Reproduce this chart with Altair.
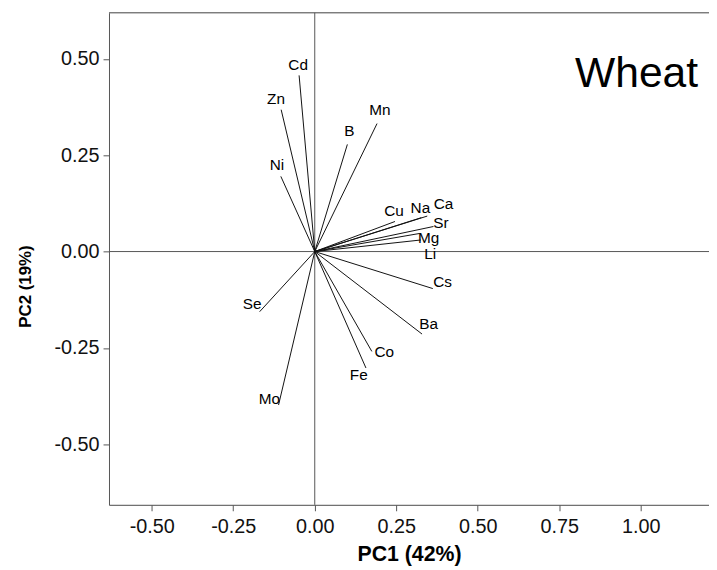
import altair as alt
import pandas as pd

# Loading vectors (PC1, PC2)
elements = ["Cd", "Zn", "Ni", "B", "Mn", "Cu", "Na", "Ca", "Sr", "Mg", "Li",
            "Cs", "Ba", "Co", "Fe", "Mo", "Se"]
pc1 = [-0.048, -0.103, -0.104, 0.100, 0.191, 0.246, 0.327, 0.345, 0.364, 0.322, 0.325,
       0.362, 0.329, 0.175, 0.157, -0.111, -0.169]
pc2 = [0.457, 0.368, 0.195, 0.278, 0.332, 0.078, 0.088, 0.092, 0.065, 0.047, 0.030,
       -0.096, -0.214, -0.259, -0.302, -0.398, -0.156]
# Label positions
label_x = [-0.051, -0.119, -0.116, 0.106, 0.200, 0.243, 0.324, 0.395, 0.387, 0.349, 0.354,
           0.392, 0.349, 0.213, 0.135, -0.139, -0.192]
label_y = [0.484, 0.395, 0.225, 0.313, 0.367, 0.105, 0.114, 0.123, 0.074, 0.036, -0.006,
           -0.079, -0.188, -0.261, -0.321, -0.383, -0.136]

x_ticks = [-0.5, -0.25, 0.0, 0.25, 0.5, 0.75, 1.0]
y_ticks = [-0.5, -0.25, 0.0, 0.25, 0.5]

panel_title = ["Wheat"]
panel_title_x = [0.987]
panel_title_y = [0.426]

df = pd.DataFrame({"element": elements, "pc1": pc1, "pc2": pc2,
                   "lx": label_x, "ly": label_y})
df["x0"] = 0.0
df["y0"] = 0.0
ann = pd.DataFrame({"t": panel_title, "x": panel_title_x, "y": panel_title_y})

FONT = "Liberation Sans"
xscale = alt.Scale(domain=[-0.631, 1.209], nice=False, zero=False)
yscale = alt.Scale(domain=[-0.657, 0.6195], nice=False, zero=False)

lab = "replace(format(datum.value, '.2f'), '\u2212', '-')"
xaxis = alt.Axis(values=x_ticks, labelExpr=lab, labelFontSize=20, labelFont=FONT,
                 labelColor="#111", tickSize=6, tickColor="#555", domainColor="#555",
                 grid=False, titleFontSize=21.5, titleFont=FONT, titleFontWeight="bold",
                 titleColor="#000", titleY=56, titleBaseline="alphabetic",
                 labelPadding=6)
yaxis = alt.Axis(values=y_ticks, labelExpr=lab, labelFontSize=20, labelFont=FONT,
                 labelColor="#111", tickSize=6, tickColor="#555", domainColor="#555",
                 grid=False, titleFontSize=17, titleFont=FONT, titleFontWeight="bold",
                 titleColor="#000", titleX=-84, titleY=276, titleBaseline="middle",
                 titleAlign="center", titleAngle=-90, labelPadding=4)

base = alt.Chart(df)

vectors = base.mark_rule(color="#111", strokeWidth=1).encode(
    x=alt.X("pc1:Q", scale=xscale, axis=xaxis, title="PC1 (42%)"),
    y=alt.Y("pc2:Q", scale=yscale, axis=yaxis, title="PC2 (19%)"),
    x2="x0:Q", y2="y0:Q",
)

zero_v = alt.Chart(pd.DataFrame({"v": [0.0]})).mark_rule(color="#555", strokeWidth=1).encode(
    x=alt.X("v:Q", scale=xscale))
zero_h = alt.Chart(pd.DataFrame({"v": [0.0]})).mark_rule(color="#555", strokeWidth=1).encode(
    y=alt.Y("v:Q", scale=yscale))
top_border = alt.Chart(pd.DataFrame({"v": [0.6195]})).mark_rule(color="#555", strokeWidth=1).encode(
    y=alt.Y("v:Q", scale=yscale))

labels = base.mark_text(font=FONT, fontSize=15.5, color="#000", align="center",
                        baseline="middle").encode(
    x=alt.X("lx:Q", scale=xscale), y=alt.Y("ly:Q", scale=yscale), text="element:N")

wheat = alt.Chart(ann).mark_text(font=FONT, fontSize=43, color="#000", align="center",
                                 baseline="alphabetic").encode(
    x=alt.X("x:Q", scale=xscale), y=alt.Y("y:Q", scale=yscale), text="t:N")

chart = alt.layer(zero_v, zero_h, top_border, vectors, labels, wheat).properties(
    width=606, height=497,
    autosize=alt.AutoSizeParams(type="none"),
    padding={"left": 102, "top": 2, "right": 0, "bottom": 60},
).configure_view(stroke=None).configure(background="white")

chart.save("out.html", embed_options={"renderer": "svg", "actions": False})
